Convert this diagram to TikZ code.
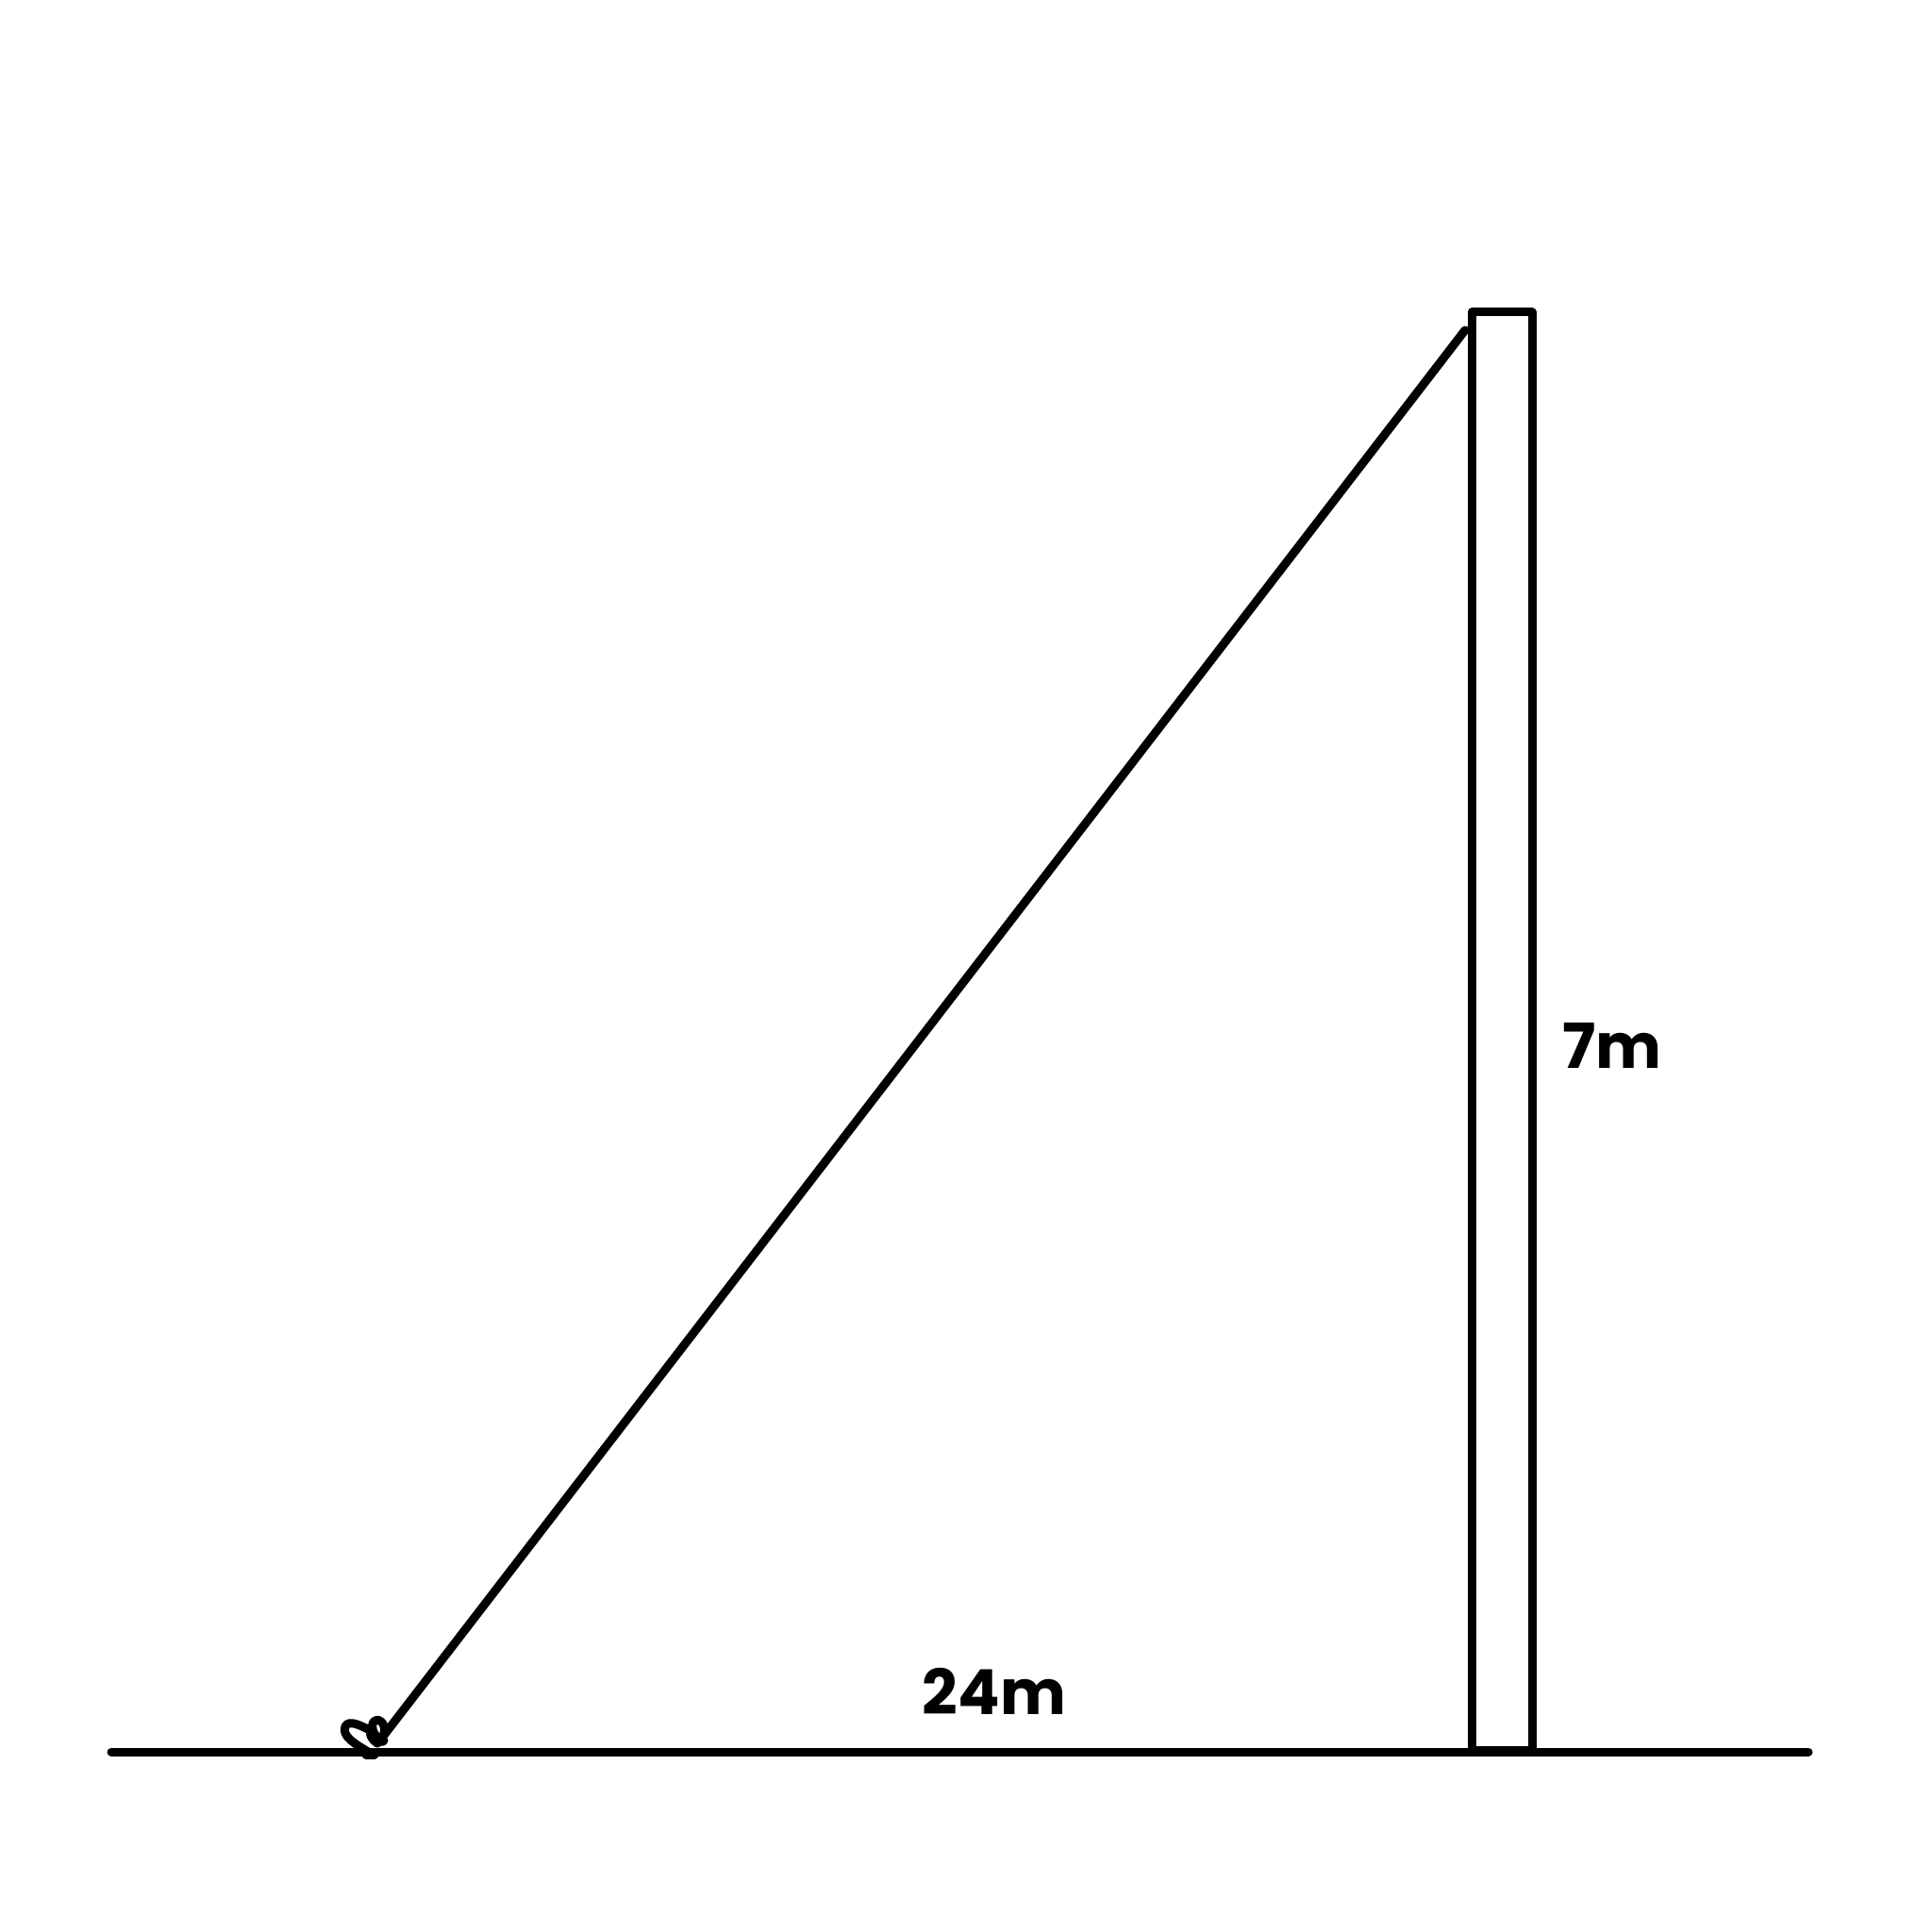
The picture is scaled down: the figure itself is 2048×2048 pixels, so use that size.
\documentclass[tikz,border=0pt]{standalone}
\usepackage{fontspec}
\setmainfont{Poppins}
\begin{document}
\begin{tikzpicture}[x=0.5pt,y=-0.5pt,
  ln/.style={line width=4.5pt,line cap=round,line join=round},
  lbl/.style={font=\fontsize{33}{36}\selectfont\bfseries,inner sep=0pt}]
\useasboundingbox (0,0) rectangle (2048,2048);
% ground
\coordinate (gL) at (118,1857);
\coordinate (gR) at (1917,1857);
\draw[ln] (gL) -- (gR);
% pole
\coordinate (pTL) at (1560,331);
\coordinate (pTR) at (1624,331);
\coordinate (pBL) at (1560,1855);
\coordinate (pBR) at (1624,1855);
\draw[ln] (pBL) -- (pTL) -- (pTR) -- (pBR) -- (pBL);
% diagonal wire
\coordinate (wTop) at (1553,350);
\coordinate (wBot) at (405,1842);
\draw[ln] (wBot) -- (wTop);
% peg / knot
\draw[ln] (392,1858) .. controls (375,1848) and (362,1840) .. (366,1830)
  .. controls (370,1822) and (384,1830) .. (396,1836)
  .. controls (392,1826) and (398,1820) .. (404,1825)
  .. controls (410,1830) and (408,1842) .. (400,1848)
  .. controls (394,1844) and (390,1838) .. (394,1832)
  .. controls (398,1840) and (404,1850) .. (407,1845);
\draw[ln] (388,1860) -- (397,1860);
% labels
\node[lbl] (l7) at (1709,1108) {7m};
\node[lbl] (l24) at (1054,1793) {24m};
\end{tikzpicture}
\end{document}
